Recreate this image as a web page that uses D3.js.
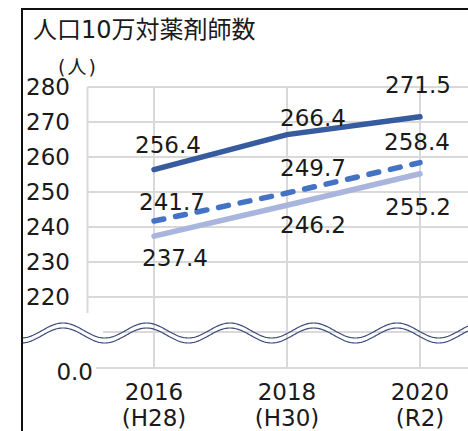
<!DOCTYPE html>
<html><head><meta charset="utf-8">
<script src="https://cdn.jsdelivr.net/npm/d3@7"></script>
<style>
html,body{margin:0;padding:0;background:#fff;}
svg{display:block;}
text{font-family:"DejaVu Sans","Noto Sans CJK JP",sans-serif;fill:#1a1a1a;}
</style></head>
<body>
<svg id="c" width="468" height="431"></svg>
<script>
const title = "人口10万対薬剤師数";
const unitLabel = "(人)";
const years = ["2016", "2018", "2020"];
const eras = ["(H28)", "(H30)", "(R2)"];
const yTicks = [220, 230, 240, 250, 260, 270, 280];
const seriesA = [256.4, 266.4, 271.5];
const seriesB = [241.7, 249.7, 258.4];
const seriesC = [237.4, 246.2, 255.2];

// label offsets (px) relative to each point
const offA = [[14, -25], [26, -17], [-2, -32]];
const offB = [[18, -19], [26, -25], [-3, -21]];
const offC = [[21, 22], [26, 20], [-2, 33]];

const svg = d3.select("#c");
const x = d3.scaleBand().domain(years).range([87.5, 486.5]).padding(0);
const cx = d => x(d) + x.bandwidth() / 2;
const y = d3.scaleLinear().domain([0, 210, 280]).range([368, 332, 87]);

const grid = svg.append("g").attr("stroke", "#d9d9d9").attr("stroke-width", 2);
[210].concat(yTicks).forEach(v => {
  grid.append("line").attr("x1", 87.5).attr("x2", 468).attr("y1", y(v)).attr("y2", y(v));
});
grid.append("line").attr("x1", 87.5).attr("x2", 468).attr("y1", y(0)).attr("y2", y(0));
[x(years[0])].concat(years.map(cx)).forEach(px => {
  grid.append("line").attr("x1", px).attr("x2", px).attr("y1", y(280)).attr("y2", y(0));
});

// white cover for the break area at left
svg.append("rect").attr("x", 23).attr("y", 313).attr("width", 80).attr("height", 43).attr("fill", "#fff");
svg.append("rect").attr("x", 23).attr("y", 356).attr("width", 73).attr("height", 20).attr("fill", "#fff");

// wave break
function wave(cy) {
  const pts = [];
  for (let px = 22; px <= 468; px += 1) {
    pts.push([px, cy - 7.5 * Math.cos((px - 63) / 83.5 * 2 * Math.PI)]);
  }
  return d3.line()(pts);
}
svg.append("path").attr("d", wave(330.5)).attr("fill", "none").attr("stroke", "#3b4a78").attr("stroke-width", 1.2);
svg.append("path").attr("d", wave(335.5)).attr("fill", "none").attr("stroke", "#3b4a78").attr("stroke-width", 1.2);

// y tick labels
svg.selectAll(".yt").data(yTicks).enter().append("text")
  .attr("x", 70).attr("y", d => y(d)).attr("dy", "0.35em")
  .attr("text-anchor", "end").attr("font-size", 23).text(d => d3.format("d")(d));
svg.append("text").attr("x", 93).attr("y", y(0) + 4).attr("dy", "0.35em")
  .attr("text-anchor", "end").attr("font-size", 23).text(d3.format(".1f")(0));

// x labels
svg.selectAll(".xl").data(years).enter().append("text")
  .attr("x", d => cx(d)).attr("y", 392).attr("dy", "0.35em")
  .attr("text-anchor", "middle").attr("font-size", 23).text(d => d);
svg.selectAll(".xe").data(eras).enter().append("text")
  .attr("x", (d, i) => cx(years[i])).attr("y", 418).attr("dy", "0.35em")
  .attr("text-anchor", "middle").attr("font-size", 23).text(d => d);

// lines
const line = d3.line().x((d, i) => cx(years[i])).y(d => y(d));
svg.append("path").attr("d", line(seriesC)).attr("fill", "none")
  .attr("stroke", "#a9b5dc").attr("stroke-width", 5.5).attr("stroke-linecap", "round");
svg.append("path").attr("d", line(seriesB)).attr("fill", "none")
  .attr("stroke", "#4472c4").attr("stroke-width", 5.5).attr("stroke-linecap", "round")
  .attr("stroke-dasharray", "10,12");
svg.append("path").attr("d", line(seriesA)).attr("fill", "none")
  .attr("stroke", "#365b9f").attr("stroke-width", 5.5).attr("stroke-linecap", "round");

// data labels
[[seriesA, offA], [seriesB, offB], [seriesC, offC]].forEach(([s, off]) => {
  svg.append("g").selectAll("text").data(s).enter().append("text")
    .attr("x", (d, i) => cx(years[i]) + off[i][0])
    .attr("y", (d, i) => y(d) + off[i][1]).attr("dy", "0.35em")
    .attr("text-anchor", "middle").attr("font-size", 23).text(d => d3.format(".1f")(d));
});

// title and unit
svg.append("text").attr("x", 33).attr("y", 30).attr("dy", "0.35em")
  .attr("font-size", 24).text(title);
svg.append("text").attr("x", 58).attr("y", 67).attr("dy", "0.35em")
  .attr("font-size", 19).attr("letter-spacing", 2).text(unitLabel);

// frame
svg.append("path").attr("d", "M22,431 V9 H468").attr("fill", "none")
  .attr("stroke", "#111").attr("stroke-width", 2);
</script>
</body></html>
